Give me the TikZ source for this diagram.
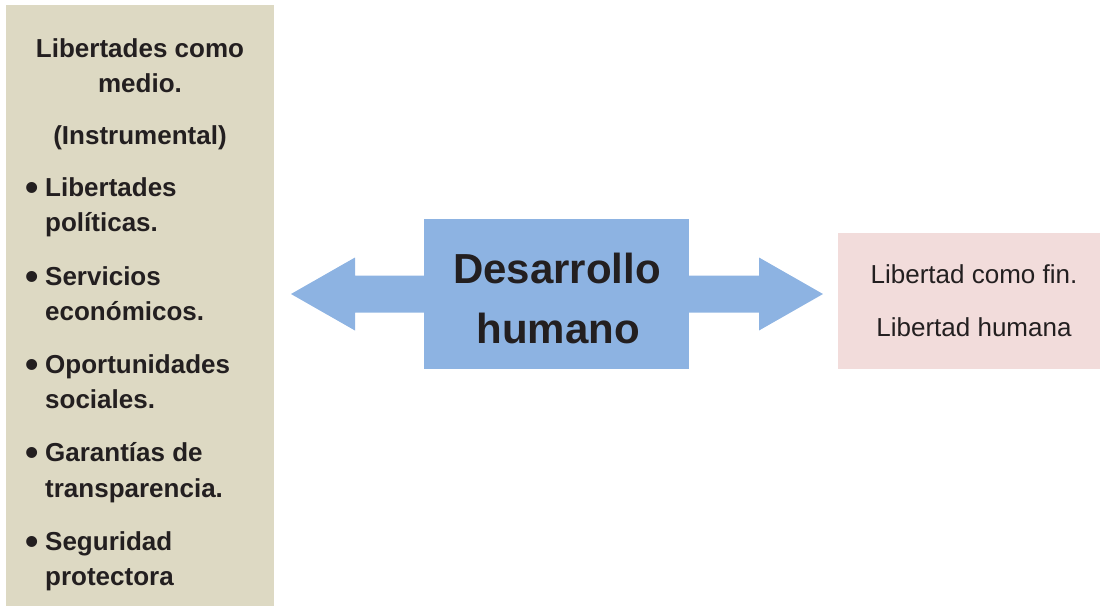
\documentclass[tikz,border=0pt]{standalone}
\usepackage{fontspec}
\setmainfont{Liberation Sans}
\usetikzlibrary{calc}
\definecolor{beige}{HTML}{DDD9C3}
\definecolor{blueb}{HTML}{8DB3E2}
\definecolor{pinkb}{HTML}{F2DCDB}
\definecolor{ink}{HTML}{231F20}
\begin{document}
\begin{tikzpicture}[x=1pt,y=-1pt,
  box/.style={inner sep=0pt, outer sep=0pt, draw=none, anchor=north west},
  ltxt/.style={inner sep=0pt, anchor=base west, text=ink, font=\fontsize{26}{31}\selectfont\bfseries},
  ctxt/.style={inner sep=0pt, anchor=base, text=ink, font=\fontsize{26}{31}\selectfont\bfseries},
  rtxt/.style={inner sep=0pt, anchor=base, text=ink, font=\fontsize{26}{31}\selectfont},
  bigtxt/.style={inner sep=0pt, anchor=base, text=ink, font=\fontsize{42}{50}\selectfont\bfseries},
  bul/.style={inner sep=0pt, anchor=base, text=ink, font=\fontsize{38}{40}\selectfont\bfseries},
  blockarrow/.style={fill=blueb, draw=none}]
\useasboundingbox (0,0) rectangle (1100,606);
% boxes
\node[box, fill=beige, minimum width=268pt, minimum height=601pt] (lbox) at (6,5) {};
\node[box, fill=blueb, minimum width=265pt, minimum height=150pt] (cbox) at (424,219) {};
\node[box, fill=pinkb, minimum width=262pt, minimum height=136pt] (rbox) at (838,233) {};
% block arrows
\fill[blockarrow] (cbox.west) ++(0,-18.5) -- ++(-69,0) -- ++(0,-18) -- ++(-64,36.5) -- ++(64,36.5) -- ++(0,-18) -- ++(69,0) -- cycle;
\fill[blockarrow] (cbox.east) ++(0,-18.5) -- ++(70,0) -- ++(0,-18) -- ++(64,36.5) -- ++(-64,36.5) -- ++(0,-18) -- ++(-70,0) -- cycle;
% left text
\node[ctxt] (h1) at (140,57) {Libertades como};
\node[ctxt] (h2) at (140,92) {medio.};
\node[ctxt] (h3) at (140,144) {(Instrumental)};
\node[bul] (b1) at (32,200) {\textbullet};
\node[ltxt] (i1a) at (45,196) {Libertades};
\node[ltxt] (i1b) at (45,231) {políticas.};
\node[bul] (b2) at (32,289) {\textbullet};
\node[ltxt] (i2a) at (45,285) {Servicios};
\node[ltxt] (i2b) at (45,320) {económicos.};
\node[bul] (b3) at (32,377) {\textbullet};
\node[ltxt] (i3a) at (45,373) {Oportunidades};
\node[ltxt] (i3b) at (45,408) {sociales.};
\node[bul] (b4) at (32,465) {\textbullet};
\node[ltxt] (i4a) at (45,461) {Garantías de};
\node[ltxt] (i4b) at (45,497) {transparencia.};
\node[bul] (b5) at (32,554) {\textbullet};
\node[ltxt] (i5a) at (45,550) {Seguridad};
\node[ltxt] (i5b) at (45,585) {protectora};
% center text
\node[bigtxt] (c1) at (557,283) {Desarrollo};
\node[bigtxt] (c2) at (558,343) {humano};
% right text
\node[rtxt] (r1) at (974,283) {Libertad como fin.};
\node[rtxt] (r2) at (974,336) {Libertad humana};
\end{tikzpicture}
\end{document}
